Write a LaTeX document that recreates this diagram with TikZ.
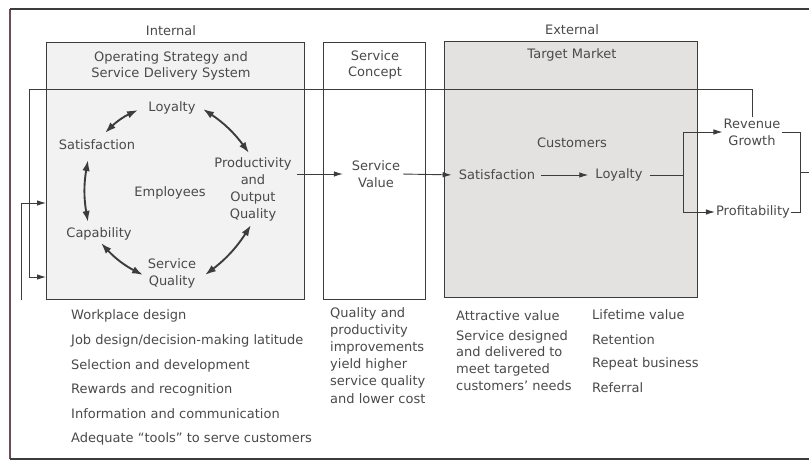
\documentclass[tikz,border=0pt]{standalone}
\usepackage{fontspec}
\setmainfont{DejaVu Sans}
\usetikzlibrary{arrows.meta,positioning}
\definecolor{ink}{HTML}{3C3C3C}
\definecolor{txt}{HTML}{4A4A4A}
\definecolor{frameleft}{HTML}{6E4B57}
\definecolor{panelA}{HTML}{F3F2F2}
\definecolor{panelB}{HTML}{E4E1E1}
\tikzset{
  panel/.style={draw=ink, line width=1.4pt, anchor=north west, inner sep=0pt},
  lbl/.style={text=txt, font=\fontsize{13}{16}\selectfont, inner sep=1pt, align=center},
  lst/.style={text=txt, font=\fontsize{13}{16}\selectfont, inner sep=0pt, anchor=west},
  flow/.style={draw=ink, line width=0.9pt, -{Latex[length=9pt,width=5.5pt]}},
  plain/.style={draw=ink, line width=0.9pt},
  cyc/.style={draw=ink, line width=1.9pt, {Latex[length=11pt,width=7.5pt]}-{Latex[length=11pt,width=7.5pt]}},
}
\begin{document}
\begin{tikzpicture}[x=1pt,y=-1pt]
\useasboundingbox (0,0) rectangle (809,465);
\fill[white] (0,0) rectangle (809,465);

% outer frame
\draw[draw=frameleft, line width=1.3pt] (10,459) -- (10,9);
\draw[draw=ink, line width=1.3pt] (10,9) -- (812,9);
\draw[draw=ink, line width=1.3pt] (10,459) -- (812,459);

% panels
\node[panel, fill=panelA, minimum width=258pt, minimum height=257pt] (int) at (46,42) {};
\node[panel, fill=white, minimum width=102pt, minimum height=257pt] (con) at (323,42) {};
\node[panel, fill=panelB, minimum width=253pt, minimum height=256pt] (mkt) at (444,41) {};

% headings
\node[lbl] (hint) at (171,31) {Internal};
\node[lbl] (hext) at (572,30) {External};
\node[lbl, text width=220pt, font=\fontsize{13}{16.5}\selectfont] (osd) at (171,66) {Operating Strategy and\\Service Delivery System};
\node[lbl, text width=90pt, font=\fontsize{13}{16.5}\selectfont] (sc) at (375,65) {Service\\Concept};
\node[lbl] (tm) at (572,55) {Target Market};

% employee cycle
\node[lbl] (loy) at (172,108) {Loyalty};
\node[lbl] (sat) at (97,145) {Satisfaction};
\node[lbl, font=\fontsize{13}{17}\selectfont] (prod) at (253,189) {Productivity\\and\\Output\\Quality};
\node[lbl, font=\fontsize{13}{17}\selectfont] (sq) at (172,273) {Service\\Quality};
\node[lbl] (cap) at (99,234) {Capability};
\node[lbl] (emp) at (170,193) {Employees};

\draw[cyc] (105,133) to[bend left=10] (138,110);
\draw[cyc] (203,109) to[bend left=10] (249,153);
\draw[cyc] (88,222) to[bend left=10] (88,160);
\draw[cyc] (101,243) to[bend right=10] (143,275);
\draw[cyc] (205,275) to[bend right=10] (251,225);

% service value and customers
\node[lbl, font=\fontsize{13}{17}\selectfont] (sv) at (376,174) {Service\\Value};
\node[lbl] (cust) at (572,143) {Customers};
\node[lbl] (csat) at (497,175) {Satisfaction};
\node[lbl] (cloy) at (619,175) {Loyalty};
\node[lbl, font=\fontsize{13}{17}\selectfont] (rev) at (752,132) {Revenue\\Growth};
\node[lbl] (prof) at (753,212) {Profitability};

% main flow
\coordinate (o1) at (297,174);
\draw[flow, shorten >=8pt] (o1) -- (sv.west |- o1);
\draw[flow, shorten <=2pt, shorten >=6pt] (sv.east |- o1) -- (csat.west);
\draw[flow, shorten <=5pt, shorten >=6pt] (csat.east) -- (cloy.west);
\coordinate (sp) at (683,175);
\draw[plain, shorten <=6pt] (cloy.east) -- (sp);
\draw[flow] (sp) |- (rev.west |- 0,132);
\draw[flow] (sp) |- (prof.west);

% bracket on the right
\coordinate (br) at (800,172);
\coordinate (rgt) at (812,172);
\draw[plain] (rev.east |- 0,132) -- (800,132) -- (800,212) -- (prof.east);
\draw[plain] (br) -- (rgt);

% feedback loops
\coordinate (fbtop) at (29,89);
\draw[flow] (rev.north) -- (rev.north |- fbtop) -- (fbtop) -- (29,277) -- (int.west |- 0,277);
\coordinate (fblow) at (21,300);
\draw[flow] (fblow) -- (21,203) -- (int.west |- 0,203);

% lists under the panels
\node[lst] (l1) at (71,316) {Workplace design};
\node[lst] (l2) at (71,341) {Job design/decision-making latitude};
\node[lst] (l3) at (71,366) {Selection and development};
\node[lst] (l4) at (71,390) {Rewards and recognition};
\node[lst] (l5) at (71,414) {Information and communication};
\node[lst] (l6) at (71,439) {Adequate “tools” to serve customers};

\node[lst, anchor=north west, align=left, font=\fontsize{13}{17.2}\selectfont] (q) at (330,307) {Quality and\\productivity\\improvements\\yield higher\\service quality\\and lower cost};

\node[lst] (a1) at (456,316) {Attractive value};
\node[lst, anchor=north west, align=left, font=\fontsize{13}{16.8}\selectfont] (a2) at (456,330) {Service designed\\and delivered to\\meet targeted\\customers’ needs};

\node[lst] (r1) at (592,315) {Lifetime value};
\node[lst] (r2) at (592,340) {Retention};
\node[lst] (r3) at (592,364) {Repeat business};
\node[lst] (r4) at (592,388) {Referral};
\end{tikzpicture}
\end{document}
